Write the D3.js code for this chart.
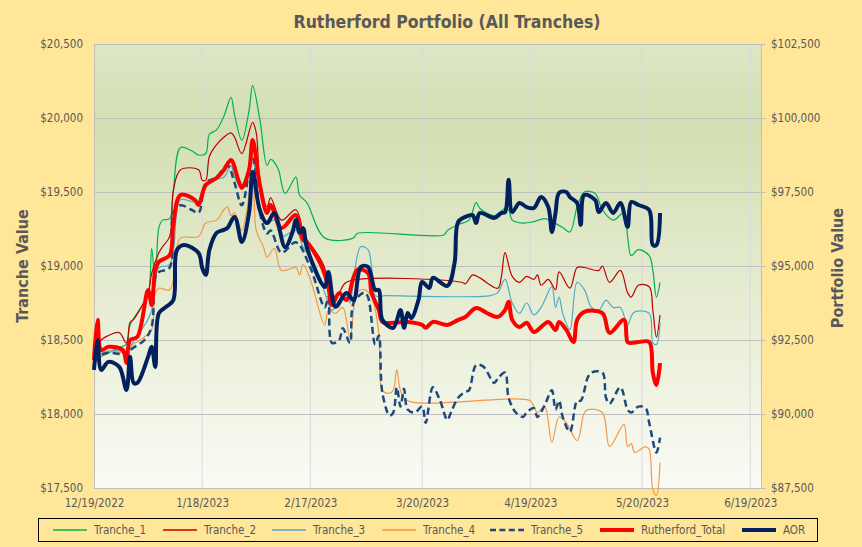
<!DOCTYPE html>
<html>
<head>
<meta charset="utf-8">
<script src="https://cdn.jsdelivr.net/npm/d3@7"></script>
<style>
body { margin:0; background:#FFE699; }
text { font-family:"DejaVu Sans Condensed","Liberation Sans",Arial,sans-serif; fill:#595959; }
</style>
</head>
<body>
<div id="chart"></div>
<script>
// ---- data ----
var xTickLabels = ['12/19/2022','1/18/2023','2/17/2023','3/20/2023','4/19/2023','5/20/2023','6/19/2023'];
var leftTicks = [17500,18000,18500,19000,19500,20000,20500];
var rightTicks = [87500,90000,92500,95000,97500,100000,102500];
var seriesNames = ['Tranche_1','Tranche_2','Tranche_3','Tranche_4','Tranche_5','Rutherford_Total','AOR'];

var tranche1 = [["2022-12-19",18370],["2022-12-22",18400],["2022-12-26",18450],["2022-12-28",18470],["2022-12-29",18600],["2023-01-01",18720],["2023-01-03",18800],["2023-01-04",19120],["2023-01-05",18870],["2023-01-06",19260],["2023-01-07",19310],["2023-01-09",19320],["2023-01-10",19510],["2023-01-12",19800],["2023-01-15",19780],["2023-01-17",19750],["2023-01-19",19760],["2023-01-20",19890],["2023-01-22",19920],["2023-01-24",20010],["2023-01-26",20140],["2023-01-27",20020],["2023-01-29",19850],["2023-01-31",20050],["2023-02-01",20220],["2023-02-03",19990],["2023-02-05",19680],["2023-02-06",19720],["2023-02-08",19660],["2023-02-10",19490],["2023-02-13",19600],["2023-02-14",19480],["2023-02-16",19430],["2023-02-21",19190],["2023-03-01",19190],["2023-03-02",19220],["2023-03-26",19210],["2023-03-27",19240],["2023-03-30",19280],["2023-04-02",19310],["2023-04-04",19430],["2023-04-05",19390],["2023-04-09",19340],["2023-04-12",19390],["2023-04-13",19380],["2023-04-14",19310],["2023-04-17",19290],["2023-04-20",19300],["2023-04-23",19320],["2023-04-25",19300],["2023-04-28",19260],["2023-04-30",19230],["2023-05-02",19400],["2023-05-04",19500],["2023-05-07",19490],["2023-05-09",19380],["2023-05-12",19310],["2023-05-15",19360],["2023-05-16",19200],["2023-05-17",19070],["2023-05-19",19110],["2023-05-22",19070],["2023-05-23",18970],["2023-05-24",18790],["2023-05-25",18890]];

var tranche2 = [["2022-12-19",18390],["2022-12-21",18500],["2022-12-23",18530],["2022-12-26",18550],["2022-12-28",18480],["2022-12-29",18620],["2022-12-30",18640],["2023-01-03",18820],["2023-01-04",18950],["2023-01-06",19090],["2023-01-07",19130],["2023-01-09",19200],["2023-01-10",19510],["2023-01-12",19650],["2023-01-17",19650],["2023-01-18",19580],["2023-01-19",19580],["2023-01-20",19740],["2023-01-22",19820],["2023-01-24",19870],["2023-01-26",19900],["2023-01-27",19870],["2023-01-29",19760],["2023-02-01",19970],["2023-02-02",19900],["2023-02-03",19580],["2023-02-05",19400],["2023-02-06",19460],["2023-02-09",19310],["2023-02-13",19380],["2023-02-15",19230],["2023-02-16",19180],["2023-02-20",19040],["2023-02-22",18910],["2023-02-23",18790],["2023-02-25",18820],["2023-02-27",18890],["2023-03-31",18890],["2023-04-01",18880],["2023-04-03",18940],["2023-04-05",18920],["2023-04-10",18850],["2023-04-11",18930],["2023-04-12",19090],["2023-04-14",18930],["2023-04-16",18890],["2023-04-18",18930],["2023-04-20",18910],["2023-04-21",18940],["2023-04-22",18870],["2023-04-24",18910],["2023-04-26",18840],["2023-04-27",18960],["2023-04-30",18850],["2023-05-02",18990],["2023-05-04",18990],["2023-05-08",18970],["2023-05-09",19000],["2023-05-11",18890],["2023-05-14",18970],["2023-05-16",18820],["2023-05-17",18790],["2023-05-19",18870],["2023-05-22",18860],["2023-05-23",18700],["2023-05-24",18520],["2023-05-25",18670]];

var tranche3 = [["2022-12-19",18370],["2022-12-22",18420],["2022-12-27",18420],["2022-12-28",18390],["2022-12-29",18450],["2023-01-03",18640],["2023-01-04",18700],["2023-01-05",18910],["2023-01-06",18990],["2023-01-09",19010],["2023-01-11",19380],["2023-01-12",19450],["2023-01-17",19430],["2023-01-18",19510],["2023-01-20",19580],["2023-01-24",19600],["2023-01-26",19680],["2023-01-27",19600],["2023-01-29",19530],["2023-02-01",19700],["2023-02-03",19400],["2023-02-05",19290],["2023-02-07",19310],["2023-02-09",19200],["2023-02-13",19240],["2023-02-15",19130],["2023-02-18",19020],["2023-02-21",18820],["2023-02-23",18700],["2023-02-25",18770],["2023-02-27",18820],["2023-02-28",18750],["2023-03-01",18910],["2023-03-03",19130],["2023-03-05",19110],["2023-03-06",18990],["2023-03-07",18800],["2023-03-10",18800],["2023-04-08",18800],["2023-04-10",18820],["2023-04-12",18910],["2023-04-14",18750],["2023-04-16",18680],["2023-04-18",18750],["2023-04-20",18670],["2023-04-22",18720],["2023-04-25",18860],["2023-04-26",18720],["2023-04-27",18790],["2023-04-28",18680],["2023-04-30",18570],["2023-05-02",18890],["2023-05-04",18840],["2023-05-06",18720],["2023-05-08",18700],["2023-05-10",18770],["2023-05-12",18720],["2023-05-14",18720],["2023-05-16",18600],["2023-05-17",18660],["2023-05-18",18690],["2023-05-22",18680],["2023-05-23",18480],["2023-05-24",18470],["2023-05-25",18620]];

var tranche4 = [["2022-12-19",18370],["2022-12-22",18420],["2022-12-27",18410],["2022-12-28",18380],["2022-12-29",18450],["2023-01-02",18520],["2023-01-04",18570],["2023-01-05",18820],["2023-01-06",18850],["2023-01-09",18840],["2023-01-11",19130],["2023-01-12",19190],["2023-01-17",19200],["2023-01-19",19290],["2023-01-22",19310],["2023-01-24",19380],["2023-01-25",19400],["2023-01-26",19340],["2023-01-27",19360],["2023-01-29",19240],["2023-02-01",19600],["2023-02-02",19240],["2023-02-04",19130],["2023-02-05",19060],["2023-02-07",19120],["2023-02-09",18970],["2023-02-13",18990],["2023-02-14",18940],["2023-02-15",19010],["2023-02-17",18910],["2023-02-21",18600],["2023-02-22",18700],["2023-02-24",18680],["2023-02-26",18720],["2023-02-28",18520],["2023-03-02",18820],["2023-03-04",18840],["2023-03-06",18790],["2023-03-08",18550],["2023-03-09",18160],["2023-03-11",18140],["2023-03-12",18160],["2023-03-13",18300],["2023-03-14",18160],["2023-03-16",18090],["2023-04-19",18090],["2023-04-20",18050],["2023-04-21",18010],["2023-04-23",18050],["2023-04-25",17810],["2023-04-27",17980],["2023-04-29",17940],["2023-05-02",17820],["2023-05-04",18010],["2023-05-05",18030],["2023-05-09",18010],["2023-05-11",17780],["2023-05-15",17930],["2023-05-16",17780],["2023-05-17",17800],["2023-05-18",17740],["2023-05-21",17780],["2023-05-22",17760],["2023-05-23",17490],["2023-05-24",17450],["2023-05-25",17670]];

var tranche5 = [["2022-12-19",18350],["2022-12-22",18410],["2022-12-27",18400],["2022-12-28",18390],["2022-12-29",18430],["2023-01-02",18500],["2023-01-04",18590],["2023-01-05",18930],["2023-01-06",18960],["2023-01-09",18990],["2023-01-10",19360],["2023-01-12",19410],["2023-01-15",19380],["2023-01-17",19360],["2023-01-19",19560],["2023-01-22",19600],["2023-01-25",19680],["2023-01-27",19560],["2023-01-29",19410],["2023-02-01",19740],["2023-02-03",19360],["2023-02-05",19220],["2023-02-06",19240],["2023-02-09",19090],["2023-02-13",19160],["2023-02-17",18990],["2023-02-21",18720],["2023-02-22",18790],["2023-02-23",18480],["2023-02-25",18500],["2023-02-26",18580],["2023-02-28",18480],["2023-03-01",18750],["2023-03-04",18820],["2023-03-05",18790],["2023-03-07",18470],["2023-03-08",18530],["2023-03-09",18140],["2023-03-11",17990],["2023-03-12",18010],["2023-03-13",18180],["2023-03-14",18050],["2023-03-15",18170],["2023-03-16",18030],["2023-03-18",18010],["2023-03-20",18050],["2023-03-21",17940],["2023-03-23",18180],["2023-03-25",18090],["2023-03-27",17960],["2023-03-28",18010],["2023-03-30",18110],["2023-04-01",18150],["2023-04-02",18160],["2023-04-04",18330],["2023-04-06",18320],["2023-04-09",18210],["2023-04-10",18240],["2023-04-12",18280],["2023-04-13",18110],["2023-04-15",18010],["2023-04-17",17980],["2023-04-18",18010],["2023-04-20",18040],["2023-04-21",17980],["2023-04-23",18060],["2023-04-25",18160],["2023-04-26",18030],["2023-04-27",18090],["2023-04-28",17980],["2023-04-30",17880],["2023-05-02",18090],["2023-05-03",18090],["2023-05-05",18250],["2023-05-06",18280],["2023-05-09",18280],["2023-05-10",18110],["2023-05-11",18070],["2023-05-14",18180],["2023-05-16",18030],["2023-05-17",18010],["2023-05-19",18050],["2023-05-21",18040],["2023-05-22",17940],["2023-05-24",17740],["2023-05-25",17840]];

// portfolio level series (right axis)
var rutherfordTotal = [["2022-12-19",91830],["2022-12-20",93180],["2022-12-21",92160],["2022-12-23",92270],["2022-12-27",92160],["2022-12-28",91720],["2022-12-29",92500],["2022-12-31",92600],["2023-01-03",94190],["2023-01-04",93680],["2023-01-05",94870],["2023-01-06",95140],["2023-01-09",95370],["2023-01-10",96390],["2023-01-12",97400],["2023-01-16",97230],["2023-01-17",97060],["2023-01-19",97740],["2023-01-22",97970],["2023-01-24",98240],["2023-01-26",98580],["2023-01-28",97910],["2023-01-29",97640],["2023-01-31",98240],["2023-02-01",99260],["2023-02-03",97740],["2023-02-05",96790],["2023-02-06",97060],["2023-02-09",96280],["2023-02-13",96720],["2023-02-15",95880],["2023-02-16",95810],["2023-02-20",95030],["2023-02-22",94290],["2023-02-23",93680],["2023-02-25",94090],["2023-02-27",93850],["2023-03-02",94870],["2023-03-05",94760],["2023-03-06",94090],["2023-03-08",93510],["2023-03-09",93110],["2023-03-12",93080],["2023-03-16",93110],["2023-03-20",93010],["2023-03-21",92910],["2023-03-23",93110],["2023-03-27",93010],["2023-03-30",93180],["2023-04-01",93280],["2023-04-04",93580],["2023-04-07",93410],["2023-04-10",93280],["2023-04-12",93510],["2023-04-13",93790],["2023-04-14",93180],["2023-04-16",92940],["2023-04-18",93080],["2023-04-20",92770],["2023-04-24",93110],["2023-04-26",92840],["2023-04-27",93110],["2023-04-29",92840],["2023-05-01",92430],["2023-05-02",93180],["2023-05-04",93450],["2023-05-09",93410],["2023-05-11",92740],["2023-05-15",93180],["2023-05-16",92430],["2023-05-17",92400],["2023-05-19",92430],["2023-05-22",92430],["2023-05-23",91390],["2023-05-24",90980],["2023-05-25",91720]];

var aor = [["2022-12-19",91490],["2022-12-20",92500],["2022-12-21",91490],["2022-12-23",91760],["2022-12-26",91590],["2022-12-28",90810],["2022-12-29",91930],["2022-12-30",91050],["2022-12-31",91050],["2023-01-03",91930],["2023-01-04",92270],["2023-01-05",91590],["2023-01-06",93410],["2023-01-08",93620],["2023-01-10",93850],["2023-01-11",95540],["2023-01-13",95710],["2023-01-17",95440],["2023-01-18",94940],["2023-01-19",94700],["2023-01-20",95540],["2023-01-22",96120],["2023-01-24",96220],["2023-01-25",96280],["2023-01-27",96660],["2023-01-29",95810],["2023-01-31",96790],["2023-02-01",98180],["2023-02-03",96890],["2023-02-05",96450],["2023-02-07",96790],["2023-02-10",95640],["2023-02-12",96120],["2023-02-13",96550],["2023-02-14",96120],["2023-02-15",96280],["2023-02-16",95640],["2023-02-21",94290],["2023-02-22",94800],["2023-02-24",93620],["2023-02-27",94090],["2023-03-01",93850],["2023-03-03",94970],["2023-03-05",94970],["2023-03-07",94190],["2023-03-08",94190],["2023-03-09",93180],["2023-03-12",92910],["2023-03-14",93510],["2023-03-15",92910],["2023-03-16",93410],["2023-03-17",93240],["2023-03-19",93850],["2023-03-20",94460],["2023-03-22",94260],["2023-03-23",94600],["2023-03-27",94330],["2023-03-29",95100],["2023-03-30",96490],["2023-04-01",96660],["2023-04-03",96720],["2023-04-04",96450],["2023-04-05",96790],["2023-04-09",96620],["2023-04-11",96790],["2023-04-12",96820],["2023-04-13",97910],["2023-04-14",96820],["2023-04-16",97130],["2023-04-18",96990],["2023-04-20",96960],["2023-04-22",97330],["2023-04-24",96990],["2023-04-25",96150],["2023-04-26",96790],["2023-04-27",97470],["2023-04-29",97500],["2023-04-30",97330],["2023-05-02",97130],["2023-05-03",96390],["2023-05-04",97400],["2023-05-07",97230],["2023-05-08",96820],["2023-05-10",97130],["2023-05-12",96790],["2023-05-14",97130],["2023-05-16",96320],["2023-05-17",97160],["2023-05-19",97060],["2023-05-22",96890],["2023-05-23",95710],["2023-05-24",95710],["2023-05-25",96790]];

// ---- layout ----
var svgWidth = 862,
	svgHeight = 547;

var margin = {t:44, r:101, b:59, l:94};

var width = svgWidth - margin.l - margin.r,
	height = svgHeight - margin.t - margin.b;

var parseDay = d3.timeParse('%Y-%m-%d'),
	parseTick = d3.timeParse('%m/%d/%Y');

var svg = d3.select('#chart')
	.append('svg')
	.attr('width', svgWidth)
	.attr('height', svgHeight);

svg.append('rect')
	.attr('width', svgWidth)
	.attr('height', svgHeight)
	.attr('fill', '#FFE699');

// plot area gradient (green at top fading to white)
var grad = svg.append('defs').append('linearGradient')
	.attr('id', 'plotFill')
	.attr('x1', 0).attr('y1', 0).attr('x2', 0).attr('y2', 1);
grad.append('stop').attr('offset', '0%').attr('stop-color', '#DDE7C6');
grad.append('stop').attr('offset', '18%').attr('stop-color', '#D3DFB2');
grad.append('stop').attr('offset', '100%').attr('stop-color', '#FAFBF5');

var chartGroup = svg.append('g')
	.attr('transform', `translate(${margin.l},${margin.t})`);

chartGroup.append('rect')
	.attr('width', width)
	.attr('height', height)
	.attr('fill', 'url(#plotFill)');

var xScale = d3.scaleTime()
	.domain([parseTick('12/19/2022'), parseTick('6/22/2023')])
	.range([0, width]);

var yLeft = d3.scaleLinear().domain([17500, 20500]).range([height, 0]),
	yRight = d3.scaleLinear().domain([87500, 102500]).range([height, 0]);

var xTicks = xTickLabels.map(parseTick);
var money = d => '$' + d3.format(',')(d);

// gridlines
chartGroup.append('g').selectAll('line')
	.data(xTicks.slice(1))
	.enter()
	.append('line')
	.attr('x1', d => xScale(d)).attr('x2', d => xScale(d))
	.attr('y1', 0).attr('y2', height)
	.attr('stroke', '#D9D9D9')
	.attr('stroke-width', 1);

chartGroup.append('g').selectAll('line')
	.data(leftTicks)
	.enter()
	.append('line')
	.attr('x1', 0).attr('x2', width)
	.attr('y1', d => Math.round(yLeft(d)) + 0.5).attr('y2', d => Math.round(yLeft(d)) + 0.5)
	.attr('stroke', '#BFBFBF')
	.attr('stroke-width', 1);

// axes
var xAxis = chartGroup.append('g')
	.attr('transform', `translate(0,${height})`)
	.call(d3.axisBottom(xScale).tickValues(xTicks).tickSize(0).tickPadding(11)
		.tickFormat((d, i) => xTickLabels[i]));

var leftAxis = chartGroup.append('g')
	.call(d3.axisLeft(yLeft).tickValues(leftTicks).tickSize(0).tickPadding(11).tickFormat(money));

var rightAxis = chartGroup.append('g')
	.attr('transform', `translate(${width},0)`)
	.call(d3.axisRight(yRight).tickValues(rightTicks).tickSize(5).tickPadding(5).tickFormat(money));

[xAxis, leftAxis, rightAxis].forEach(a => {
	a.select('.domain').attr('stroke', '#BFBFBF');
	a.selectAll('.tick line').attr('stroke', '#BFBFBF');
	a.selectAll('text').attr('font-size', 11.5).attr('fill', '#595959')
		.attr('font-family', '"DejaVu Sans Condensed","Liberation Sans",Arial,sans-serif');
});

// series
var seriesList = [
	{name:seriesNames[0], data:tranche1, y:yLeft, color:'#00B050', w:1.2, dash:null},
	{name:seriesNames[1], data:tranche2, y:yLeft, color:'#C00000', w:1.2, dash:null},
	{name:seriesNames[2], data:tranche3, y:yLeft, color:'#4BACC6', w:1.2, dash:null},
	{name:seriesNames[3], data:tranche4, y:yLeft, color:'#F79646', w:1.2, dash:null},
	{name:seriesNames[4], data:tranche5, y:yLeft, color:'#1F497D', w:2.5, dash:'7,4'},
	{name:seriesNames[5], data:rutherfordTotal, y:yRight, color:'#FF0000', w:4, dash:null},
	{name:seriesNames[6], data:aor, y:yRight, color:'#002060', w:4, dash:null}
];

seriesList.forEach(s => {
	var line = d3.line()
		.x(d => xScale(parseDay(d[0])))
		.y(d => s.y(d[1]))
		.curve(d3.curveCatmullRom.alpha(0.5));
	chartGroup.append('path')
		.datum(s.data)
		.attr('d', line)
		.attr('fill', 'none')
		.attr('stroke', s.color)
		.attr('stroke-width', s.w)
		.attr('stroke-linejoin', 'round')
		.attr('stroke-dasharray', s.dash);
});

// titles
svg.append('text')
	.attr('x', 447).attr('y', 28)
	.attr('text-anchor', 'middle')
	.attr('font-size', 17.5).attr('font-weight', 'bold')
	.text('Rutherford Portfolio (All Tranches)');

svg.append('text')
	.attr('transform', `translate(28,${margin.t + height / 2})rotate(-90)`)
	.attr('text-anchor', 'middle')
	.attr('font-size', 16).attr('font-weight', 'bold')
	.text('Tranche Value');

svg.append('text')
	.attr('transform', `translate(843,${margin.t + height / 2 + 2})rotate(-90)`)
	.attr('text-anchor', 'middle')
	.attr('font-size', 16).attr('font-weight', 'bold')
	.text('Portfolio Value');

// legend
var legend = svg.append('g');
legend.append('rect')
	.attr('x', 38.5).attr('y', 518.5)
	.attr('width', 779).attr('height', 23)
	.attr('fill', 'none')
	.attr('stroke', '#000')
	.attr('stroke-width', 1);

var legendX = [53, 163, 272, 382, 490, 600, 742];
seriesList.forEach((s, i) => {
	var g = legend.append('g').attr('transform', `translate(${legendX[i]},530)`);
	g.append('line')
		.attr('x1', 0).attr('x2', 34)
		.attr('stroke', s.color)
		.attr('stroke-width', s.w < 2 ? 1.5 : s.w)
		.attr('stroke-dasharray', s.dash ? '6,3.4' : null);
	g.append('text')
		.attr('x', 41).attr('dy', '0.35em')
		.attr('font-size', 11.5)
		.text(s.name);
});
</script>
</body>
</html>
